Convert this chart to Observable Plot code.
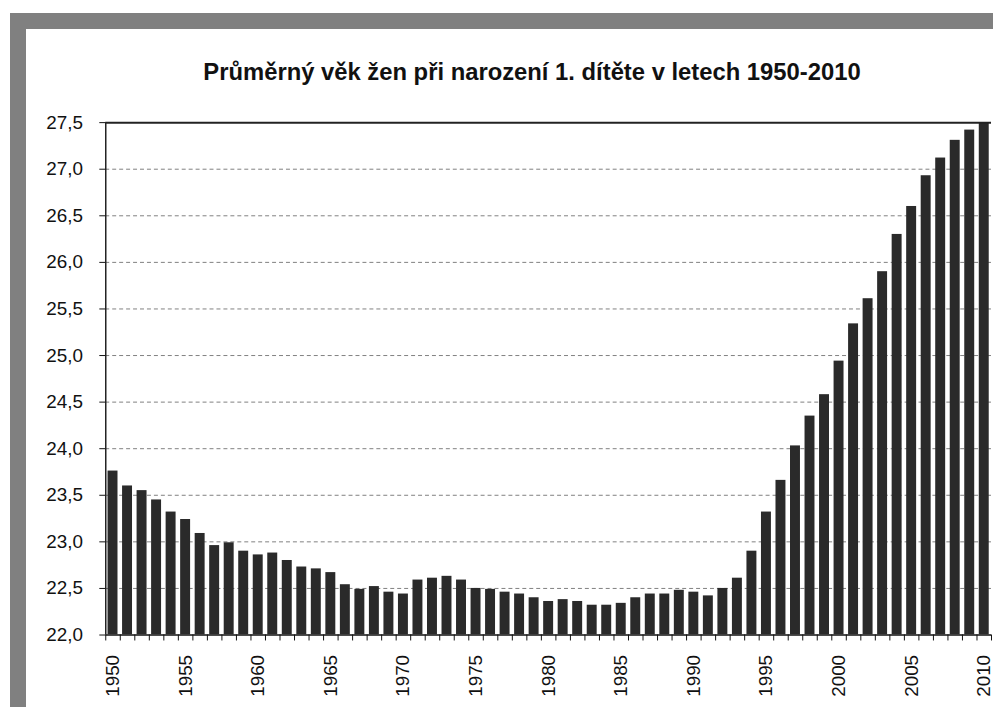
<!DOCTYPE html>
<html>
<head>
<meta charset="utf-8">
<script src="https://cdn.jsdelivr.net/npm/d3@7"></script>
<script src="https://cdn.jsdelivr.net/npm/@observablehq/plot@0.6"></script>
<style>
  html, body { margin: 0; padding: 0; background: #fff; overflow: hidden; width: 993px; height: 707px; }
  #frame { position: absolute; left: 10px; top: 13px; width: 1100px; height: 800px; background: #808080; }
  #panel { position: absolute; left: 26px; top: 29px; width: 1100px; height: 800px; background: #fff; }
  #title { position: absolute; left: 26px; top: 58px; width: 1012px; text-align: center;
           font-family: "Liberation Sans", Arial, sans-serif; font-weight: bold; font-size: 23.8px; color: #111; white-space: nowrap; }
  #chart { position: absolute; left: 0; top: 0; }
</style>
</head>
<body>
<div id="frame"></div>
<div id="panel"></div>
<div id="title">Průměrný věk žen při narození 1. dítěte v letech 1950-2010</div>
<div id="chart"></div>
<script>
const years = d3.range(1950, 2011);
const values = [
  23.76, 23.60, 23.55, 23.45, 23.32, 23.24, 23.09, 22.96, 22.99, 22.90,
  22.86, 22.88, 22.80, 22.73, 22.71, 22.67, 22.54, 22.49, 22.52, 22.46,
  22.44, 22.59, 22.61, 22.63, 22.59, 22.50, 22.49, 22.46, 22.44, 22.40,
  22.36, 22.38, 22.36, 22.32, 22.32, 22.34, 22.40, 22.44, 22.44, 22.48,
  22.46, 22.42, 22.50, 22.61, 22.90, 23.32, 23.66, 24.03, 24.35, 24.58,
  24.94, 25.34, 25.61, 25.90, 26.30, 26.60, 26.93, 27.12, 27.31, 27.42,
  27.60
];
const yTicks = [22.0, 22.5, 23.0, 23.5, 24.0, 24.5, 25.0, 25.5, 26.0, 26.5, 27.0, 27.5];
const xLabelYears = [1950, 1955, 1960, 1965, 1970, 1975, 1980, 1985, 1990, 1995, 2000, 2005, 2010];

const data = years.map((year, i) => ({year, value: values[i]}));
const fmt = d => d.toFixed(1).replace(".", ",");

const chart = Plot.plot({
  width: 1000,
  height: 707,
  marginLeft: 106,
  marginRight: 2,
  marginTop: 123,
  marginBottom: 68,
  style: {fontFamily: "'Liberation Sans', Arial, sans-serif", fontSize: "18px", color: "#111", background: "transparent", overflow: "visible"},
  x: {type: "linear", domain: [1949.5, 2010.5], axis: null},
  y: {domain: [22, 27.5], axis: null},
  marks: [
    Plot.ruleY(yTicks.filter(v => v > 22 && v < 27.5), {stroke: "#808080", strokeWidth: 1, strokeDasharray: "4,3"}),
    Plot.rect(data, {x1: d => d.year - 0.5, x2: d => d.year + 0.5, y1: 22, y2: "value", fill: "#2a2a2a", insetLeft: 2.3, insetRight: 2.3, clip: true}),
    Plot.ruleY([22], {stroke: "#111", strokeWidth: 1.5}),
    Plot.ruleY([27.5], {stroke: "#222", strokeWidth: 2}),
    Plot.ruleX([1949.5], {stroke: "#222", strokeWidth: 1.5}),
    Plot.axisY({ticks: yTicks, tickSize: 6, tickPadding: 17, tickFormat: fmt, fontSize: 19, label: null}),
    Plot.axisX({ticks: d3.range(1949.5, 2011, 1), tickSize: 6, tickFormat: () => "", label: null}),
    Plot.axisX({ticks: xLabelYears, tickSize: 0, tickPadding: 20, tickRotate: -90, tickFormat: d => String(d), fontSize: 19, label: null})
  ]
});
document.getElementById("chart").appendChild(chart);
</script>
</body>
</html>
